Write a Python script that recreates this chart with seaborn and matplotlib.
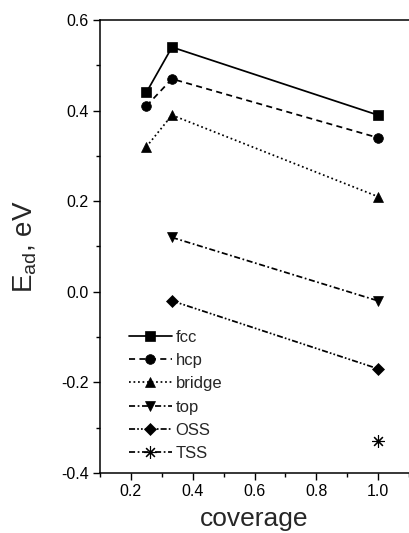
import matplotlib
matplotlib.use("Agg")
import matplotlib.pyplot as plt
import seaborn as sns
import pandas as pd
from matplotlib.ticker import MultipleLocator

sns.set_theme(style="ticks")
plt.rcParams['font.family'] = ['Liberation Sans', 'DejaVu Sans']
plt.rcParams['mathtext.fontset'] = 'custom'
plt.rcParams['mathtext.rm'] = 'Liberation Sans'

series = ["fcc", "hcp", "bridge", "top", "OSS", "TSS"]
coverage = {
    "fcc": [0.25, 0.333, 1.0],
    "hcp": [0.25, 0.333, 1.0],
    "bridge": [0.25, 0.333, 1.0],
    "top": [0.333, 1.0],
    "OSS": [0.333, 1.0],
    "TSS": [1.0],
}
energy = {
    "fcc": [0.44, 0.54, 0.39],
    "hcp": [0.41, 0.47, 0.34],
    "bridge": [0.32, 0.39, 0.21],
    "top": [0.12, -0.02],
    "OSS": [-0.02, -0.17],
    "TSS": [-0.33],
}
markers = {"fcc": "s", "hcp": "o", "bridge": "^", "top": "v", "OSS": "D", "TSS": (8, 2, 0)}
dashes = {
    "fcc": "-",
    "hcp": (0, (3.5, 2.5)),
    "bridge": (0, (1, 1.6)),
    "top": (0, (3.5, 1.5, 1, 1.5)),
    "OSS": (0, (3.5, 1.2, 1, 1.2, 1, 1.2)),
    "TSS": (0, (3.5, 1.5, 1, 1.5)),
}
msize = {"fcc": 6.5, "hcp": 7, "bridge": 7, "top": 7, "OSS": 6, "TSS": 9}

rows = []
for s in series:
    for x, y in zip(coverage[s], energy[s]):
        rows.append({"series": s, "coverage": x, "E": y})
df = pd.DataFrame(rows)

fig = plt.figure(figsize=(4.09, 5.33), dpi=100)
ax = fig.add_axes([0.2445, 0.1126, 0.7555, 0.8499])

for s in series:
    sub = df[df["series"] == s]
    sns.lineplot(data=sub, x="coverage", y="E", ax=ax, color="black",
                 linestyle=dashes[s], linewidth=1.25, marker=markers[s],
                 markersize=msize[s], markeredgecolor="black",
                 markerfacecolor="black", markeredgewidth=0.8 if s == "TSS" else 0.5,
                 label=s, legend=False, estimator=None, sort=True)

ax.set_xlim(0.1, 1.1)
ax.set_ylim(-0.4, 0.6)
ax.xaxis.set_minor_locator(MultipleLocator(0.1))
ax.yaxis.set_minor_locator(MultipleLocator(0.1))
ax.set_xticks([0.2, 0.4, 0.6, 0.8, 1.0])
ax.set_xticklabels(["0.2", "0.4", "0.6", "0.8", "1.0"])
ax.set_yticks([-0.4, -0.2, 0.0, 0.2, 0.4, 0.6])
ax.set_yticklabels(["-0.4", "-0.2", "0.0", "0.2", "0.4", "0.6"])
ax.tick_params(which="major", direction="out", length=5, width=1, labelsize=11.5, colors="black", pad=3)
ax.tick_params(which="minor", direction="out", length=3, width=1, colors="black")
for sp in ["left", "bottom", "top"]:
    ax.spines[sp].set_color("black")
    ax.spines[sp].set_linewidth(1.1)
ax.spines["right"].set_visible(False)

ax.set_xlabel("coverage", fontsize=19, labelpad=6)
ax.set_ylabel(r"E$_{\mathrm{ad}}$, eV", fontsize=20, labelpad=16)

leg = ax.legend(loc="lower left", bbox_to_anchor=(0.055, 0.0), frameon=False,
                numpoints=1, handlelength=2.6, handletextpad=0.22,
                labelspacing=0.5, fontsize=12, borderaxespad=0.3)

fig.savefig("out.png", dpi=100)
